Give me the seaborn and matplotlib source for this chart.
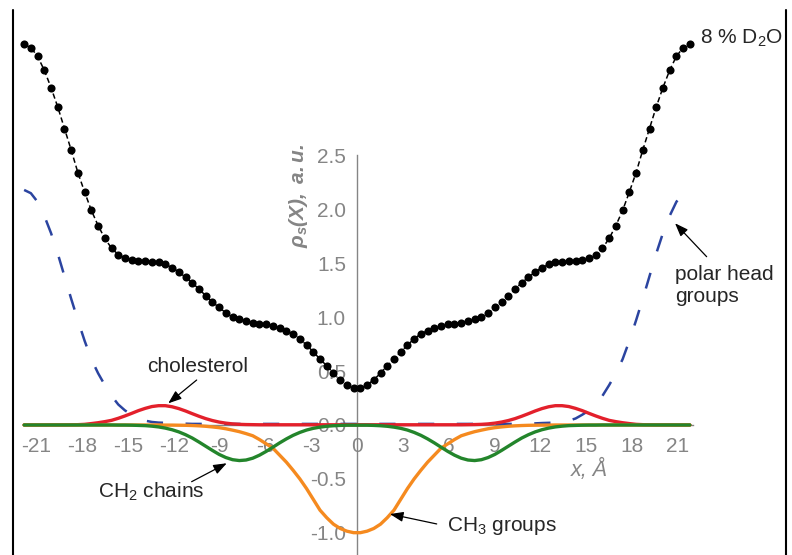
import numpy as np
import matplotlib
matplotlib.use("Agg")
import matplotlib.pyplot as plt
import seaborn as sns
from matplotlib.lines import Line2D
from matplotlib.ticker import FixedLocator

# --- data (x in Å, densities in a.u.) ---
x_pos = np.linspace(-21.8, 21.8, 100)

rho_8_d2o = [3.53, 3.50, 3.42, 3.29, 3.13, 2.95, 2.75, 2.55, 2.34, 2.16,
             1.99, 1.85, 1.73, 1.64, 1.58, 1.55, 1.53, 1.52, 1.52, 1.51,
             1.51, 1.49, 1.46, 1.42, 1.37, 1.32, 1.26, 1.20, 1.14, 1.09,
             1.04, 1.00, 0.98, 0.965, 0.95, 0.94, 0.94, 0.92, 0.90, 0.875,
             0.845, 0.80, 0.74, 0.68, 0.61, 0.55, 0.48, 0.42, 0.37, 0.34,
             0.34, 0.37, 0.42, 0.48, 0.55, 0.61, 0.68, 0.74, 0.80, 0.845,
             0.875, 0.90, 0.92, 0.94, 0.94, 0.95, 0.965, 0.98, 1.00, 1.04,
             1.09, 1.14, 1.20, 1.26, 1.32, 1.37, 1.42, 1.46, 1.49, 1.51,
             1.51, 1.52, 1.52, 1.53, 1.55, 1.58, 1.64, 1.73, 1.85, 1.99,
             2.16, 2.34, 2.55, 2.75, 2.95, 3.13, 3.29, 3.42, 3.50, 3.53]

polar_head = [2.18, 2.15, 2.07, 1.94, 1.78, 1.59, 1.38, 1.17, 0.97, 0.78,
              0.61, 0.48, 0.37, 0.27, 0.19, 0.135, 0.095, 0.06, 0.04, 0.028,
              0.022, 0.02, 0.018, 0.015, 0.012, 0.01, 0.01, 0.01, 0.01, 0.01,
              0.01, 0.01, 0.01, 0.01, 0.01, 0.01, 0.01, 0.01, 0.01, 0.01,
              0.01, 0.01, 0.01, 0.01, 0.01, 0.01, 0.01, 0.01, 0.01, 0.01,
              0.01, 0.01, 0.01, 0.01, 0.01, 0.01, 0.01, 0.01, 0.01, 0.01,
              0.01, 0.01, 0.01, 0.01, 0.01, 0.01, 0.01, 0.01, 0.01, 0.01,
              0.01, 0.01, 0.01, 0.01, 0.01, 0.012, 0.015, 0.018, 0.02, 0.022,
              0.028, 0.04, 0.06, 0.095, 0.135, 0.19, 0.27, 0.37, 0.48, 0.61,
              0.78, 0.97, 1.17, 1.38, 1.59, 1.78, 1.94, 2.07, 2.15, 2.18]

cholesterol = [0.0, 0.0, 0.0, 0.0, 0.001, 0.001, 0.001, 0.002, 0.003, 0.006,
               0.013, 0.021, 0.031, 0.043, 0.062, 0.084, 0.108, 0.133, 0.154, 0.171,
               0.179, 0.179, 0.169, 0.152, 0.130, 0.105, 0.081, 0.059, 0.041, 0.027,
               0.017, 0.010, 0.006, 0.004, 0.003, 0.002, 0.002, 0.002, 0.002, 0.002,
               0.002, 0.002, 0.002, 0.002, 0.002, 0.002, 0.002, 0.002, 0.002, 0.002,
               0.002, 0.002, 0.002, 0.002, 0.002, 0.002, 0.002, 0.002, 0.002, 0.002,
               0.002, 0.002, 0.002, 0.002, 0.002, 0.002, 0.003, 0.004, 0.006, 0.010,
               0.017, 0.027, 0.041, 0.059, 0.081, 0.105, 0.130, 0.152, 0.169, 0.179,
               0.179, 0.171, 0.154, 0.133, 0.108, 0.084, 0.062, 0.043, 0.031, 0.021,
               0.013, 0.006, 0.003, 0.002, 0.001, 0.001, 0.001, 0.0, 0.0, 0.0]

ch2_chains = [0.0, 0.0, 0.0, 0.0, 0.0, 0.0, 0.0, 0.0, 0.0, 0.0,
              0.0, 0.0, 0.0, 0.0, -0.001, -0.001, -0.002, -0.004, -0.006, -0.011,
              -0.018, -0.029, -0.044, -0.064, -0.090, -0.121, -0.158, -0.197, -0.236, -0.273,
              -0.302, -0.322, -0.330, -0.325, -0.308, -0.280, -0.245, -0.206, -0.166, -0.129,
              -0.096, -0.069, -0.047, -0.031, -0.020, -0.012, -0.007, -0.004, -0.002, -0.002,
              -0.002, -0.002, -0.004, -0.007, -0.012, -0.020, -0.031, -0.047, -0.069, -0.096,
              -0.129, -0.166, -0.206, -0.245, -0.280, -0.308, -0.325, -0.330, -0.322, -0.302,
              -0.273, -0.236, -0.197, -0.158, -0.121, -0.090, -0.064, -0.044, -0.029, -0.018,
              -0.011, -0.006, -0.004, -0.002, -0.001, -0.001, 0.0, 0.0, 0.0, 0.0,
              0.0, 0.0, 0.0, 0.0, 0.0, 0.0, 0.0, 0.0, 0.0, 0.0]

ch3_groups = [0.0, 0.0, 0.0, 0.0, 0.0, 0.0, 0.0, 0.0, 0.0, 0.0,
              0.0, 0.0, 0.0, 0.0, 0.0, 0.0, 0.0, 0.0, 0.0, 0.0,
              0.0, -0.001, -0.001, -0.002, -0.003, -0.005, -0.008, -0.012, -0.018, -0.025,
              -0.035, -0.048, -0.062, -0.080, -0.100, -0.135, -0.175, -0.215, -0.280, -0.345,
              -0.420, -0.500, -0.590, -0.690, -0.790, -0.860, -0.920, -0.960, -0.985, -0.999,
              -0.999, -0.985, -0.960, -0.920, -0.860, -0.790, -0.690, -0.590, -0.500, -0.420,
              -0.345, -0.280, -0.215, -0.175, -0.135, -0.100, -0.080, -0.062, -0.048, -0.035,
              -0.025, -0.018, -0.012, -0.008, -0.005, -0.003, -0.002, -0.001, -0.001, 0.0,
              0.0, 0.0, 0.0, 0.0, 0.0, 0.0, 0.0, 0.0, 0.0, 0.0,
              0.0, 0.0, 0.0, 0.0, 0.0, 0.0, 0.0, 0.0, 0.0, 0.0]

x_ticks = [-21, -18, -15, -12, -9, -6, -3, 0, 3, 6, 9, 12, 15, 18, 21]
x_tick_labels = ["-21", "-18", "-15", "-12", "-9", "-6", "-3", "0",
                 "3", "6", "9", "12", "15", "18", "21"]
y_ticks = [-1.0, -0.5, 0.0, 0.5, 1.0, 1.5, 2.0, 2.5]
y_tick_labels = ["-1.0", "-0.5", "0.0", "0.5", "1.0", "1.5", "2.0", "2.5"]

# --- style ---
sns.set_style("white")
plt.rcParams["font.family"] = ["Liberation Sans", "DejaVu Sans"]
plt.rcParams["axes.unicode_minus"] = False
plt.rcParams["mathtext.fontset"] = "custom"
plt.rcParams["mathtext.rm"] = "Liberation Sans"
plt.rcParams["mathtext.it"] = "Liberation Sans:italic"
plt.rcParams["mathtext.bf"] = "Liberation Sans:bold"
plt.rcParams["mathtext.bfit"] = "Liberation Sans:bold:italic"

grey = "#858585"

fig = plt.figure(figsize=(7.92, 5.55), dpi=100)
ax = fig.add_axes([0, 0, 1, 1])
ax.patch.set_alpha(0)

# --- curves ---
sns.lineplot(x=x_pos, y=polar_head, ax=ax, color="#2B44A0", lw=1.8,
             linestyle=(0, (6.5, 9)), zorder=3)
sns.lineplot(x=x_pos, y=cholesterol, ax=ax, color="#E3202B", lw=2.4, zorder=3)
sns.lineplot(x=x_pos, y=ch3_groups, ax=ax, color="#F58A1F", lw=2.4, zorder=3)
sns.lineplot(x=x_pos, y=ch2_chains, ax=ax, color="#23852B", lw=2.4, zorder=3)
sns.lineplot(x=x_pos, y=rho_8_d2o, ax=ax, color="black", lw=1.1,
             linestyle=(0, (3.5, 2)), zorder=4)
sns.scatterplot(x=x_pos, y=rho_8_d2o, ax=ax, color="black", s=34,
                linewidth=0, zorder=5)

# --- axes through the origin ---
ax.set_xlim(-23.38, 28.49)
ax.set_ylim(-1.206, 3.942)
for side in ["top", "right"]:
    ax.spines[side].set_visible(False)
ax.spines["bottom"].set_position(("data", 0))
ax.spines["left"].set_position(("data", 0))
ax.spines["bottom"].set_bounds(-21.8, 22.0)
ax.spines["left"].set_bounds(-1.206, 2.5)
for side in ["bottom", "left"]:
    ax.spines[side].set_color(grey)
    ax.spines[side].set_linewidth(1.0)
    ax.spines[side].set_zorder(2.5)

ax.xaxis.set_major_locator(FixedLocator(x_ticks))
ax.set_xticklabels(x_tick_labels)
ax.xaxis.set_minor_locator(FixedLocator(list(range(-21, 23))))
ax.yaxis.set_major_locator(FixedLocator(y_ticks))
ax.set_yticklabels(y_tick_labels)
ax.yaxis.set_minor_locator(FixedLocator(list(np.round(np.arange(-1.2, 2.51, 0.1), 1))))
ax.tick_params(which="major", direction="out", length=6, width=0.8, color=grey,
               labelcolor=grey, labelsize=15)
ax.tick_params(which="minor", direction="out", length=3.5, width=0.8, color=grey)
ax.tick_params(axis="x", pad=3)
ax.tick_params(axis="y", pad=2)

ax.text(15.19, -0.417, "x, Å", style="italic", color=grey, fontsize=15.5,
        ha="center", va="center")
ax.text(-3.80, 2.13, r"$\mathbfit{\rho_s(X),\ a.u.}$", color=grey, fontsize=15,
        rotation=90, ha="center", va="center")

# --- labels and arrows ---
arrow = dict(arrowstyle="-|>,head_length=0.8,head_width=0.3", color="black",
             lw=0.9, shrinkA=0, shrinkB=0, mutation_scale=10)
ax.text(22.46, 3.59, r"8 % D$_2$O", fontsize=15, ha="left", va="center")
ax.text(-10.41, 0.538, "cholesterol", fontsize=15, ha="center", va="center")
ax.annotate("", xy=(-12.36, 0.201), xytext=(-10.50, 0.417), arrowprops=arrow)
ax.text(-13.49, -0.622, r"CH$_2$ chains", fontsize=15, ha="center", va="center")
ax.annotate("", xy=(-8.53, -0.355), xytext=(-10.83, -0.526), arrowprops=arrow)
ax.text(5.87, -0.937, r"CH$_3$ groups", fontsize=15, ha="left", va="center")
ax.annotate("", xy=(2.16, -0.826), xytext=(5.22, -0.918), arrowprops=arrow)
ax.text(20.83, 1.294, "polar head\ngroups", fontsize=15, ha="left", va="center",
        linespacing=1.25)
ax.annotate("", xy=(20.83, 1.871), xytext=(22.9, 1.561), arrowprops=arrow)

# frame lines at both sides of the picture
for fx in [13 / 792, 785.5 / 792]:
    fig.add_artist(Line2D([fx, fx], [0, 0.982], transform=fig.transFigure,
                          color="black", lw=1.5))

fig.savefig("out.png", dpi=100)
